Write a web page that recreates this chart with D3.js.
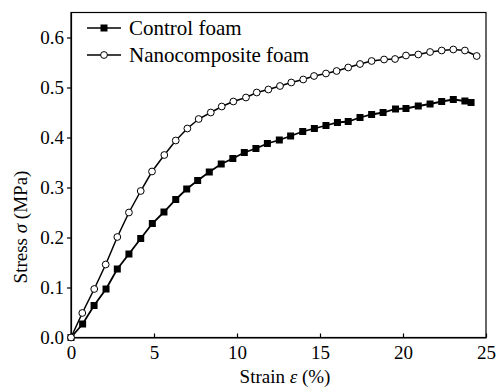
<!DOCTYPE html>
<html><head><meta charset="utf-8">
<script src="https://cdn.jsdelivr.net/npm/d3@7"></script>
<style>
body{margin:0;background:#fff;}
</style></head>
<body><svg id="c" width="497" height="387" font-family="Liberation Serif"></svg>
<script>
const controlX = [0,0.70,1.39,2.11,2.79,3.49,4.20,4.90,5.60,6.31,6.97,7.63,8.33,9.05,9.75,10.44,11.14,11.83,12.55,13.23,13.96,14.66,15.36,16.05,16.70,17.41,18.11,18.80,19.55,20.18,20.92,21.63,22.33,23.03,23.73,24.10];
const controlY = [0,0.027,0.064,0.097,0.137,0.167,0.198,0.228,0.251,0.276,0.297,0.314,0.331,0.347,0.358,0.370,0.378,0.388,0.395,0.403,0.412,0.418,0.424,0.430,0.432,0.440,0.446,0.450,0.457,0.458,0.463,0.467,0.472,0.476,0.473,0.470];
const nanoX = [0,0.68,1.40,2.09,2.79,3.49,4.20,4.88,5.62,6.31,7.01,7.69,8.42,9.08,9.78,10.54,11.19,11.89,12.59,13.27,13.99,14.64,15.36,16.0,16.70,17.41,18.11,18.86,19.52,20.18,20.92,21.63,22.33,23.03,23.73,24.44];
const nanoY = [0,0.049,0.097,0.146,0.201,0.250,0.293,0.332,0.365,0.394,0.418,0.437,0.450,0.462,0.472,0.480,0.490,0.496,0.503,0.510,0.516,0.523,0.528,0.533,0.540,0.547,0.553,0.556,0.557,0.564,0.566,0.571,0.574,0.576,0.574,0.563];
const xTicks = [0,5,10,15,20,25];
const yTicks = [0.0,0.1,0.2,0.3,0.4,0.5,0.6];
const seriesNames = ["Control foam","Nanocomposite foam"];

const FF = "Liberation Serif";
const svg = d3.select("#c");
const x = d3.scaleLinear().domain([0,25]).range([71,486]);
const y = d3.scaleLinear().domain([0,0.65]).range([337.5,12.5]);

svg.append("rect").attr("x",71).attr("y",12.5).attr("width",415).attr("height",325)
  .attr("fill","none").attr("stroke","#000").attr("stroke-width",1.2);

const xa = svg.append("g").attr("transform","translate(0,337.5)")
  .call(d3.axisBottom(x).tickValues(xTicks).tickFormat(d3.format("d")).tickSizeInner(-4).tickSizeOuter(0).tickPadding(8));
xa.attr("font-family", FF).attr("font-size",19);
xa.select(".domain").attr("stroke-width",1.2);
xa.selectAll("text").attr("font-family",FF).attr("font-size",19).attr("dy","0.71em");
const ya = svg.append("g").attr("transform","translate(71,0)")
  .call(d3.axisLeft(y).tickValues(yTicks).tickFormat(d3.format(".1f")).tickSizeInner(4).tickSizeOuter(0).tickPadding(3));
ya.attr("font-family", FF).attr("font-size",19);
ya.select(".domain").attr("stroke-width",1.2);
ya.selectAll("text").attr("font-family",FF).attr("font-size",19);
svg.selectAll(".tick line").attr("stroke-width",1.2);

const xt = svg.append("text").attr("x",285).attr("y",383).attr("text-anchor","middle").attr("font-size",19).attr("font-family",FF);
xt.append("tspan").attr("font-family",FF).text("Strain ");
xt.append("tspan").attr("font-family",FF).attr("font-style","italic").text("ε");
xt.append("tspan").attr("font-family",FF).text(" (%)");
const yt = svg.append("text").attr("transform","translate(27,227) rotate(-90)").attr("text-anchor","middle").attr("font-size",19).attr("font-family",FF);
yt.append("tspan").attr("font-family",FF).text("Stress ");
yt.append("tspan").attr("font-family",FF).attr("font-style","italic").text("σ");
yt.append("tspan").attr("font-family",FF).text(" (MPa)");

const line = d3.line().x(d=>x(d[0])).y(d=>y(d[1]));
const cData = controlX.map((v,i)=>[v,controlY[i]]);
const nData = nanoX.map((v,i)=>[v,nanoY[i]]);

svg.append("path").datum(cData).attr("d",line).attr("fill","none").attr("stroke","#000").attr("stroke-width",1.8);
svg.append("path").datum(nData).attr("d",line).attr("fill","none").attr("stroke","#000").attr("stroke-width",1.5);

svg.selectAll(".sq").data(cData).enter().append("rect")
  .attr("x",d=>x(d[0])-3.5).attr("y",d=>y(d[1])-3.5).attr("width",7).attr("height",7).attr("fill","#000");
svg.selectAll(".ci").data(nData).enter().append("circle")
  .attr("cx",d=>x(d[0])).attr("cy",d=>y(d[1])).attr("r",3.4).attr("fill","#fff").attr("stroke","#000").attr("stroke-width",1);

const lg = svg.append("g");
[28,55].forEach((ly,i)=>{
  lg.append("line").attr("x1",87).attr("x2",121).attr("y1",ly).attr("y2",ly).attr("stroke","#000").attr("stroke-width",1.5);
  if(i===0) lg.append("rect").attr("x",100.5).attr("y",ly-3.5).attr("width",7).attr("height",7).attr("fill","#000");
  else lg.append("circle").attr("cx",104).attr("cy",ly).attr("r",3.4).attr("fill","#fff").attr("stroke","#000");
  lg.append("text").attr("x",129).attr("y",ly+7).attr("font-size",21).attr("font-family",FF).text(seriesNames[i]);
});
</script></body></html>
